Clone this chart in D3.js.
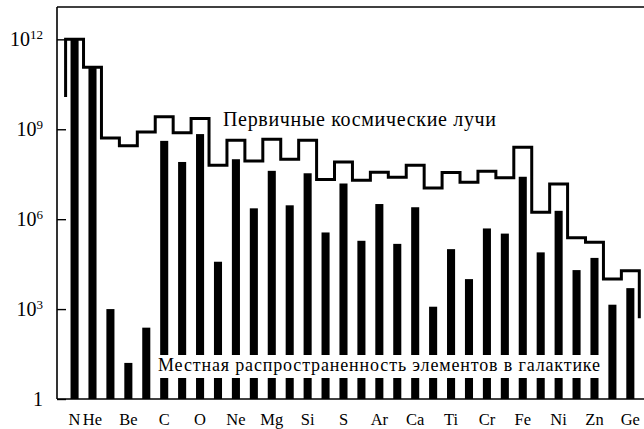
<!DOCTYPE html>
<html lang="ru">
<head>
<meta charset="utf-8">
<script src="https://cdn.jsdelivr.net/npm/d3@7"></script>
<style>
  html, body { margin: 0; padding: 0; background: #fff; }
  svg { display: block; }
  text { font-family: "Liberation Serif", "Times New Roman", serif; fill: #000; }
</style>
</head>
<body>
<svg id="chart" width="644" height="429"></svg>
<script>
// Elements H..Ge (Z = 1..32)
const elements = ["H","He","Li","Be","B","C","N","O","F","Ne","Na","Mg","Al","Si","P","S",
  "Cl","Ar","K","Ca","Sc","Ti","V","Cr","Mn","Fe","Co","Ni","Cu","Zn","Ga","Ge"];

// Labels printed under the axis (every other element, as in the original)
const tickLabels = ["N","He","","Be","","C","","O","","Ne","","Mg","","Si","","S",
  "","Ar","","Ca","","Ti","","Cr","","Fe","","Ni","","Zn","","Ge"];

// Local galactic abundance (bars)
const localAbundance = [1e12, 1.1e11, 1e3, 16, 240, 4.1e8, 8.1e7, 6.9e8, 3.8e4, 1.0e8,
  2.3e6, 4.1e7, 2.9e6, 3.4e7, 3.6e5, 1.55e7, 1.9e5, 3.2e6, 1.5e5, 2.5e6,
  1.2e3, 1.0e5, 1.0e4, 4.9e5, 3.3e5, 2.6e7, 7.8e4, 1.9e6, 2.0e4, 5.1e4, 1.4e3, 5.0e3];

// Primary cosmic rays (step line)
const cosmicRays = [1e12, 1.17e11, 5.1e8, 2.8e8, 8.1e8, 2.6e9, 7.6e8, 2.3e9, 6.3e7, 4.3e8,
  8.7e7, 4.6e8, 1.0e8, 4.3e8, 2.1e7, 8.1e7, 2.0e7, 3.7e7, 2.5e7, 6.3e7,
  1.1e7, 3.6e7, 1.7e7, 4.0e7, 2.4e7, 2.5e8, 1.7e6, 1.5e7, 2.4e5, 1.7e5, 1.0e4, 1.9e4];
// Values at which the step line starts (left) and ends (right)
const cosmicStart = 1.2e10;
const cosmicEnd = 490;

const yTicks = [1, 1e3, 1e6, 1e9, 1e12];
const yTickExp = ["", "3", "6", "9", "12"];

const cosmicLabel = "Первичные космические лучи";
const localLabel = "Местная распространенность элементов в галактике";

(function () {
const svg = d3.select("#chart");
const W = 644;
const mLeft = 57, mTop = 7, mBottom = 399;

const x = d3.scaleBand().domain(elements).range([65.6, 639.3])
  .paddingInner(0.55).paddingOuter(0.275);
const y = d3.scaleLog().domain([1, 1.2e13]).range([mBottom, mTop]);
const step = x.step();
const cellL = d => x(d) + x.bandwidth() / 2 - step / 2;
const cellR = d => x(d) + x.bandwidth() / 2 + step / 2;

// Bars
svg.append("g").selectAll("rect").data(elements).join("rect")
  .attr("x", d => x(d))
  .attr("width", x.bandwidth())
  .attr("y", (d, i) => y(localAbundance[i]))
  .attr("height", (d, i) => mBottom - y(localAbundance[i]))
  .attr("fill", "#000");

// Step line for cosmic rays
const pts = [];
pts.push([cellL(elements[0]), y(cosmicStart)]);
elements.forEach((d, i) => {
  pts.push([cellL(d), y(cosmicRays[i])]);
  pts.push([cellR(d), y(cosmicRays[i])]);
});
pts.push([cellR(elements[elements.length - 1]), y(cosmicEnd)]);
svg.append("path")
  .attr("d", d3.line()(pts))
  .attr("fill", "none").attr("stroke", "#000")
  .attr("stroke-width", 3).attr("stroke-linejoin", "miter");

// Frame lines: top, bottom
svg.append("line").attr("x1", mLeft).attr("x2", W).attr("y1", mTop).attr("y2", mTop)
  .attr("stroke", "#000").attr("stroke-width", 1.6);
svg.append("line").attr("x1", mLeft).attr("x2", W).attr("y1", mBottom).attr("y2", mBottom)
  .attr("stroke", "#000").attr("stroke-width", 1.6);

// Left axis
const yAxis = d3.axisLeft(y).tickValues(yTicks).tickSizeInner(-9).tickSizeOuter(0).tickFormat("");
const gy = svg.append("g").attr("transform", `translate(${mLeft},0)`).call(yAxis);
gy.select(".domain").attr("stroke", "#000").attr("stroke-width", 1.6)
  .attr("d", `M0,${mTop}V${mBottom}`);
gy.selectAll(".tick line").attr("stroke", "#000").attr("stroke-width", 1.4);

const lab = svg.append("g");
yTicks.forEach((v, i) => {
  const t = lab.append("text")
    .attr("x", 43).attr("y", y(v) + 7)
    .attr("text-anchor", "end")
    .style("font-size", "20px");
  if (yTickExp[i] === "") {
    t.text("1");
  } else {
    t.append("tspan").text("10");
    t.append("tspan").attr("dy", -7).style("font-size", "13px").text(yTickExp[i]);
  }
});

// X labels
svg.append("g").selectAll("text").data(elements).join("text")
  .attr("x", d => x(d) + x.bandwidth() / 2)
  .attr("y", 425)
  .attr("text-anchor", "middle")
  .style("font-size", "16.5px")
  .text((d, i) => tickLabels[i]);

// Annotations
svg.append("text").attr("x", 223).attr("y", 126)
  .style("font-size", "20px")
  .attr("textLength", 273).attr("lengthAdjust", "spacing")
  .text(cosmicLabel);

const lt = svg.append("text").attr("x", 158).attr("y", 371)
  .style("font-size", "18px")
  .attr("textLength", 442).attr("lengthAdjust", "spacing")
  .text(localLabel);
const bb = lt.node().getBBox();
svg.insert("rect", function () { return lt.node(); })
  .attr("x", bb.x - 3).attr("y", bb.y).attr("width", bb.width + 6).attr("height", bb.height + 3)
  .attr("fill", "#fff");
})();
</script>
</body>
</html>
